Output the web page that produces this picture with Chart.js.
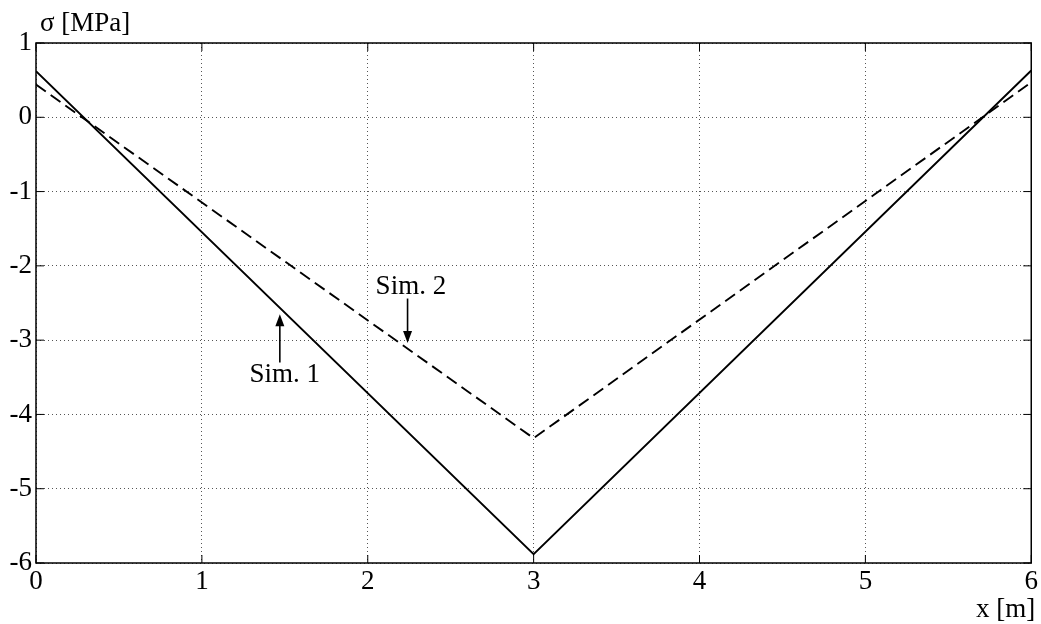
<!DOCTYPE html>
<html>
<head>
<meta charset="utf-8">
<script src="https://cdn.jsdelivr.net/npm/chart.js@4"></script>
<style>
  html, body { margin: 0; padding: 0; background: #fff; }
  #wrap { width: 1041px; height: 624px; position: relative; }
</style>
</head>
<body>
<div id="wrap"><canvas id="stress-chart"></canvas></div>
<script>
var xValues = [0, 3, 6];
var sim1 = [0.62, -5.88, 0.63];
var sim2 = [0.44, -4.32, 0.47];
var xTicks = [0, 1, 2, 3, 4, 5, 6];
var yTicks = [1, 0, -1, -2, -3, -4, -5, -6];

// label, text position, arrow start/end (data units)
var notes = [
  {text: 'Sim. 1', tx: 1.5, ty: -3.47, ax: 1.47, ay1: -3.3, ay2: -2.65},
  {text: 'Sim. 2', tx: 2.26, ty: -2.28, ax: 2.24, ay1: -2.44, ay2: -3.04}
];

var serif = "'Liberation Serif', 'Times New Roman', serif";
var fsize = 27;

function pts(ys) {
  return xValues.map(function (x, i) { return {x: x, y: ys[i]}; });
}

var framePlugin = {
  id: 'frame',
  afterDraw: function (chart) {
    var ctx = chart.ctx, a = chart.chartArea;
    var sx = chart.scales.x, sy = chart.scales.y;
    ctx.save();
    ctx.strokeStyle = '#000';
    ctx.lineWidth = 1.5;
    ctx.strokeRect(a.left, a.top, a.right - a.left, a.bottom - a.top);
    ctx.lineWidth = 1;
    xTicks.forEach(function (t) {
      var px = sx.getPixelForValue(t);
      ctx.beginPath();
      ctx.moveTo(px, a.bottom); ctx.lineTo(px, a.bottom - 8);
      ctx.moveTo(px, a.top); ctx.lineTo(px, a.top + 8);
      ctx.stroke();
    });
    yTicks.forEach(function (t) {
      var py = sy.getPixelForValue(t);
      ctx.beginPath();
      ctx.moveTo(a.left, py); ctx.lineTo(a.left + 8, py);
      ctx.moveTo(a.right, py); ctx.lineTo(a.right - 8, py);
      ctx.stroke();
    });

    ctx.fillStyle = '#000';
    ctx.font = fsize + 'px ' + serif;
    ctx.textBaseline = 'alphabetic';
    ctx.textAlign = 'left';
    ctx.fillText('σ [MPa]', a.left + 4, a.top - 12);
    ctx.textAlign = 'right';
    ctx.fillText('x [m]', a.right + 4, a.bottom + 54);

    notes.forEach(function (n) {
      var tx = sx.getPixelForValue(n.tx), ty = sy.getPixelForValue(n.ty);
      ctx.textAlign = 'center';
      ctx.textBaseline = 'middle';
      ctx.fillText(n.text, tx, ty);
      var ax = sx.getPixelForValue(n.ax);
      var y1 = sy.getPixelForValue(n.ay1), y2 = sy.getPixelForValue(n.ay2);
      var dir = y2 < y1 ? -1 : 1;
      ctx.lineWidth = 1.6;
      ctx.beginPath();
      ctx.moveTo(ax, y1); ctx.lineTo(ax, y2 - dir * 8);
      ctx.stroke();
      ctx.beginPath();
      ctx.moveTo(ax, y2);
      ctx.lineTo(ax - 4.5, y2 - dir * 12);
      ctx.lineTo(ax + 4.5, y2 - dir * 12);
      ctx.closePath();
      ctx.fill();
    });
    ctx.restore();
  }
};

var grid = {color: '#555', lineWidth: 1, drawTicks: false};

function build() {
  new Chart(document.getElementById('stress-chart'), {
    type: 'line',
    data: {
      datasets: [
        {label: 'Sim. 1', data: pts(sim1), borderColor: '#000', borderWidth: 1.9,
         pointRadius: 0, fill: false, tension: 0},
        {label: 'Sim. 2', data: pts(sim2), borderColor: '#000', borderWidth: 1.9,
         borderDash: [12, 6], pointRadius: 0, fill: false, tension: 0}
      ]
    },
    options: {
      responsive: true, maintainAspectRatio: false, animation: false,
      layout: {padding: {top: 43, right: 8, left: 0, bottom: 0}},
      plugins: {legend: {display: false}, title: {display: false}, tooltip: {enabled: false}},
      scales: {
        x: {
          type: 'linear', min: 0, max: 6,
          border: {display: false, dash: [1, 3]},
          grid: grid,
          ticks: {stepSize: 1, color: '#000', padding: 3, maxRotation: 0,
                  font: {family: serif, size: fsize}},
          afterFit: function (s) { s.height = 61; }
        },
        y: {
          min: -6, max: 1,
          border: {display: false, dash: [1, 3]},
          grid: grid,
          ticks: {stepSize: 1, color: '#000', padding: 4,
                  font: {family: serif, size: fsize}},
          afterFit: function (s) { s.width = 36; }
        }
      }
    },
    plugins: [framePlugin]
  });
}

if (document.fonts && document.fonts.load) {
  document.fonts.load(fsize + "px 'Liberation Serif'").then(build, build);
} else {
  build();
}
</script>
</body>
</html>
